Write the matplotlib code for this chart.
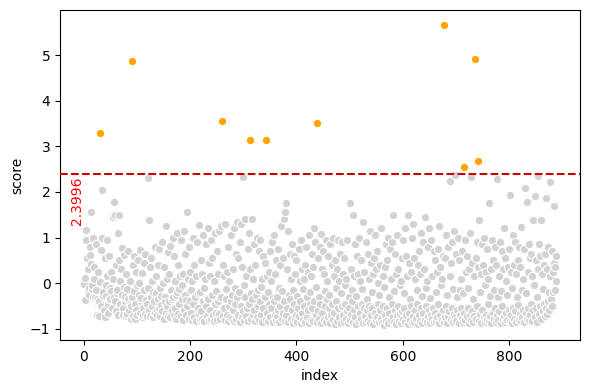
import numpy as np
import matplotlib
matplotlib.use("Agg")
import matplotlib.pyplot as plt

# scores, index 0..889 (10 per row)
scores = [
    0.05, -0.02, 0.12, -0.38, 1.17, 0.95, 0.55, -0.20, 0.30, -0.10,
    -0.25, 0.80, 0.62, 1.57, 0.42, -0.12, -0.05, 0.98, -0.30, 0.35,
    0.10, -0.30, 0.85, -0.15, -0.35, -0.70, 0.25, -0.42, -0.72, -0.40,
    3.30, 0.02, -0.50, 0.72, 2.05, 1.00, -0.28, -0.20, -0.60, 0.55,
    -0.75, -0.05, -0.28, 0.95, 0.15, -0.45, -0.65, 0.60, -0.35, -0.10,
    -0.35, 0.25, -0.18, -0.55, 0.08, 1.45, 1.77, -0.30, 1.50, -0.40,
    -0.62, 0.40, -0.22, -0.15, -0.70, 1.10, 0.50, 1.50, 0.05, -0.45,
    0.30, -0.25, 0.78, -0.55, -0.70, -0.08, 0.62, -0.40, -0.30, -0.72,
    0.20, -0.68, -0.12, -0.35, 0.70, -0.60, 0.05, -0.45, -0.50, -0.78,
    4.87, -0.30, 0.40, -0.72, -0.18, 0.60, -0.45, -0.78, 0.25, -0.60,
    # 100
    -0.05, -0.70, 0.50, -0.25, 0.00, -0.65, 0.72, -0.40, -0.32, -0.75,
    0.22, -0.55, -0.70, 0.45, -0.15, 0.65, -0.68, -0.38, -0.45, -0.72,
    2.30, -0.10, -0.60, 1.38, 0.35, -0.72, -0.30, 0.55, -0.50, 0.05,
    -0.75, -0.20, -0.40, 0.80, -0.65, 0.15, -0.22, -0.58, -0.70, -0.35,
    0.40, -0.55, 0.75, -0.10, -0.72, -0.28, -0.48, 0.90, -0.62, 0.00,
    -0.78, 0.35, -0.30, -0.42, -0.65, 1.25, 0.10, -0.50, 0.68, -0.72,
    0.20, -0.40, -0.75, 0.82, -0.15, -0.35, -0.60, 1.00, -0.30, -0.70,
    0.60, 0.05, -0.55, -0.25, -0.78, 1.10, -0.20, 0.40, -0.68, -0.12,
    -0.45, 0.15, -0.72, 0.95, -0.35, -0.05, -0.80, 0.20, -0.60, 1.15,
    -0.25, 0.65, -0.70, -0.38, -0.50, 1.57, 0.10, -0.78, 0.80, -0.40,
    # 200
    0.25, -0.65, -0.15, -0.80, 0.05, 1.00, -0.45, 0.40, -0.75, -0.28,
    -0.30, 0.15, -0.82, 0.90, -0.55, -0.22, -0.70, 1.28, -0.20, -0.80,
    0.50, -0.62, 0.20, -0.78, 1.05, -0.40, -0.10, -0.82, 0.10, -0.50,
    0.85, -0.72, -0.32, -0.35, 1.20, -0.80, 0.45, -0.60, 0.15, -0.78,
    0.95, -0.25, 0.55, -0.70, 0.05, -0.82, 1.10, -0.45, -0.18, -0.65,
    0.70, -0.80, 0.20, -0.40, 1.15, -0.68, -0.30, -0.78, 1.25, -0.30,
    3.56, -0.72, 0.40, -0.55, 0.15, -0.80, 1.30, -0.35, -0.12, -0.70,
    0.25, -0.82, 0.80, -0.50, 0.05, -0.75, 1.05, -0.40, -0.25, -0.78,
    0.30, -0.60, 1.20, -0.82, -0.10, -0.45, 0.65, -0.78, 1.35, -0.30,
    0.55, -0.70, -0.20, -0.85, 0.90, -0.50, 1.30, -0.75, 0.35, -0.62,
    # 300
    2.32, -0.80, -0.05, -0.30, 1.40, -0.72, 0.15, -0.55, 0.75, -0.82,
    1.10, -0.45, 0.30, 3.14, -0.78, -0.22, -0.35, 1.40, -0.70, 0.10,
    -0.60, 0.85, -0.82, 0.40, -0.25, 1.00, -0.75, -0.15, -0.50, 0.70,
    -0.80, 0.95, -0.40, -0.08, -0.70, 0.10, -0.85, 0.60, -0.55, -0.28,
    -0.30, 0.45, -0.78, 3.14, 0.15, -0.65, -0.20, -0.82, 0.25, -0.45,
    0.70, -0.75, 0.05, -0.55, 0.90, -0.85, -0.32, -0.40, 1.05, -0.70,
    0.20, -0.80, 0.50, -0.30, -0.72, 0.75, -0.60, -0.10, -0.85, 0.40,
    -0.50, 1.25, -0.78, -0.18, -0.65, 0.55, -0.40, 1.40, -0.82, 1.55,
    1.75, -0.70, 0.30, -0.55, 1.15, -0.85, -0.25, -0.35, 0.65, -0.78,
    0.10, -0.60, 0.85, -0.88, -0.15, -0.45, 0.60, -0.80, 0.20, -0.70,
    # 400
    0.50, -0.85, -0.28, -0.55, 0.75, -0.72, 0.05, -0.40, 0.95, -0.88,
    0.30, -0.65, -0.12, -0.80, 0.10, -0.50, 0.40, -0.85, 0.80, -0.30,
    -0.75, 0.25, -0.60, 1.05, -0.88, -0.20, -0.45, 0.15, -0.80, 0.65,
    -0.55, 0.35, -0.82, 1.20, -0.40, 0.90, -0.70, -0.08, 3.52, -0.85,
    0.55, -0.60, -0.30, -0.78, 0.80, -0.45, 1.08, -0.88, 0.30, -0.65,
    0.70, -0.80, 0.20, -0.50, -0.18, -0.85, 0.95, -0.35, 0.05, -0.75,
    0.60, -0.55, -0.25, -0.88, 0.85, -0.70, 0.40, -0.45, 1.00, -0.80,
    0.15, -0.65, 0.50, -0.90, -0.10, -0.40, 0.30, -0.82, 0.95, -0.55,
    0.05, -0.75, 0.65, -0.88, -0.22, -0.50, 0.90, -0.70, 0.20, -0.85,
    0.55, -0.45, -0.05, -0.78, 0.10, -0.62, 0.95, -0.88, -0.30, -0.55,
    # 500
    1.75, -0.80, 0.30, -0.68, -0.15, -0.40, 1.50, -0.85, 0.15, -0.60,
    0.85, -0.75, -0.28, -0.90, 0.60, -0.50, 0.20, -0.82, 1.00, -0.65,
    0.05, -0.78, 0.50, -0.45, -0.12, -0.88, 1.35, -0.55, 0.25, -0.72,
    0.90, -0.85, -0.35, -0.60, 0.65, -0.80, 0.10, -0.50, 1.15, -0.88,
    0.45, -0.70, -0.20, -0.55, 0.20, -0.90, 0.55, -0.65, 1.05, -0.80,
    0.30, -0.75, 0.70, -0.45, 0.00, -0.85, -0.25, -0.60, 0.40, -0.78,
    1.20, -0.88, 0.15, -0.50, -0.08, -0.92, 0.35, -0.70, 0.85, -0.82,
    0.50, -0.55, 1.00, -0.88, -0.30, -0.65, 0.75, -0.80, 0.10, -0.45,
    0.90, -0.75, 1.50, -0.85, -0.18, -0.60, 0.65, -0.90, 0.20, -0.70,
    1.05, -0.50, 0.30, -0.82, -0.05, -0.68, 0.05, -0.88, 0.55, -0.62,
    # 600
    0.95, -0.78, -0.22, -0.55, 1.20, -0.85, 0.60, -0.70, 0.15, -0.90,
    1.50, -0.65, 0.45, -0.80, -0.35, -0.50, 0.25, -0.88, 1.00, -0.72,
    1.30, -0.85, 0.55, -0.60, 0.10, -0.78, -0.15, -0.45, 0.40, -0.90,
    0.70, -0.70, 0.20, -0.82, 1.10, -0.55, -0.28, -0.88, 0.90, -0.65,
    0.30, -0.80, 1.45, -0.50, -0.10, -0.85, 0.05, -0.72, 0.80, -0.60,
    1.20, -0.88, -0.32, -0.70, 0.95, -0.78, 0.15, -0.55, 0.70, -0.85,
    0.50, -0.65, -0.20, -0.82, 0.25, -0.75, 0.75, -0.45, 1.25, -0.88,
    0.35, -0.70, -0.05, -0.80, 0.10, -0.60, 0.60, -0.85, 5.66, -0.75,
    0.55, -0.50, 1.05, -0.88, -0.25, -0.72, 0.80, -0.62, 0.15, 2.25,
    -0.80, 0.45, -0.55, 0.90, -0.85, -0.12, -0.68, 1.15, 2.37, -0.75,
    # 700
    0.65, -0.82, -0.30, -0.60, 1.00, -0.88, 0.50, -0.70, -0.15, -0.55,
    0.10, -0.78, 0.70, -0.85, -0.22, 2.54, -0.65, 0.95, -0.80, 0.25,
    -0.72, 0.60, -0.55, -0.10, -0.88, 0.30, -0.70, 1.10, 2.32, -0.80,
    0.45, -0.62, -0.35, -0.85, 0.15, -0.72, 4.91, 0.55, -0.78, 0.90,
    -0.50, 0.35, 2.68, 1.39, -0.82, -0.20, -0.68, 0.20, -0.88, 0.85,
    -0.60, 0.40, -0.75, 1.00, -0.85, -0.05, -0.70, 0.25, -0.80, 0.75,
    -0.45, 0.10, 1.75, -0.82, -0.28, -0.72, 0.30, -0.88, 0.95, -0.65,
    0.50, -0.78, -0.15, -0.55, 0.80, -0.85, 0.40, 2.28, -0.70, -0.30,
    -0.80, 0.15, -0.62, 0.90, -0.88, -0.18, -0.50, 0.70, -0.78, 0.30,
    1.20, -0.72, 0.55, -0.85, 0.05, -0.65, -0.25, -0.80, 0.35, -0.58,
    # 800
    0.75, 1.93, -0.82, 0.25, -0.70, -0.10, -0.88, 1.05, -0.55, 0.40,
    -0.78, 0.90, -0.62, 0.20, -0.85, -0.30, -0.48, 0.50, -0.80, 0.80,
    -0.68, 0.35, 1.24, -0.82, -0.15, -0.75, 0.10, -0.58, 0.75, -0.85,
    2.08, -0.65, -0.22, 1.77, -0.78, 0.25, -0.55, 0.85, -0.80, 0.55,
    -0.70, 0.65, -0.45, 0.15, -0.82, 1.39, -0.60, -0.05, 1.92, -0.75,
    0.50, -0.55, -0.30, -0.85, 2.35, 0.30, -0.68, 0.85, -0.50, 0.60,
    -0.78, 1.39, 0.20, -0.62, -0.12, -0.45, 0.40, -0.72, 0.65, 1.86,
    -0.55, 0.30, -0.68, 0.80, -0.40, -0.20, -0.60, 0.15, 2.21, -0.35,
    0.70, -0.50, 0.25, -0.20, 1.70, 0.45, -0.15, 0.35, 0.05, 0.60,
]
threshold = 2.3996

scores = np.array(scores)
index = np.arange(len(scores))
is_out = scores > threshold

fig, ax = plt.subplots(figsize=(5.9, 3.9), dpi=100)
ax.scatter(index[~is_out], scores[~is_out], s=36, c="lightgray",
           edgecolors="white", linewidths=0.75, zorder=2)
ax.scatter(index[is_out], scores[is_out], s=36, c="orange",
           edgecolors="white", linewidths=0.75, zorder=3)

ax.axhline(threshold, color="#cc0000", linestyle="--", linewidth=1.5, zorder=4)
ax.text(0, threshold - 0.05, f"{threshold:.4f}", color="red", rotation=90,
        ha="right", va="top", fontsize=10)

ax.set_xlabel("index")
ax.set_ylabel("score")

fig.subplots_adjust(left=0.102, right=0.983, top=0.974, bottom=0.128)
plt.savefig("out.png", dpi=100)
